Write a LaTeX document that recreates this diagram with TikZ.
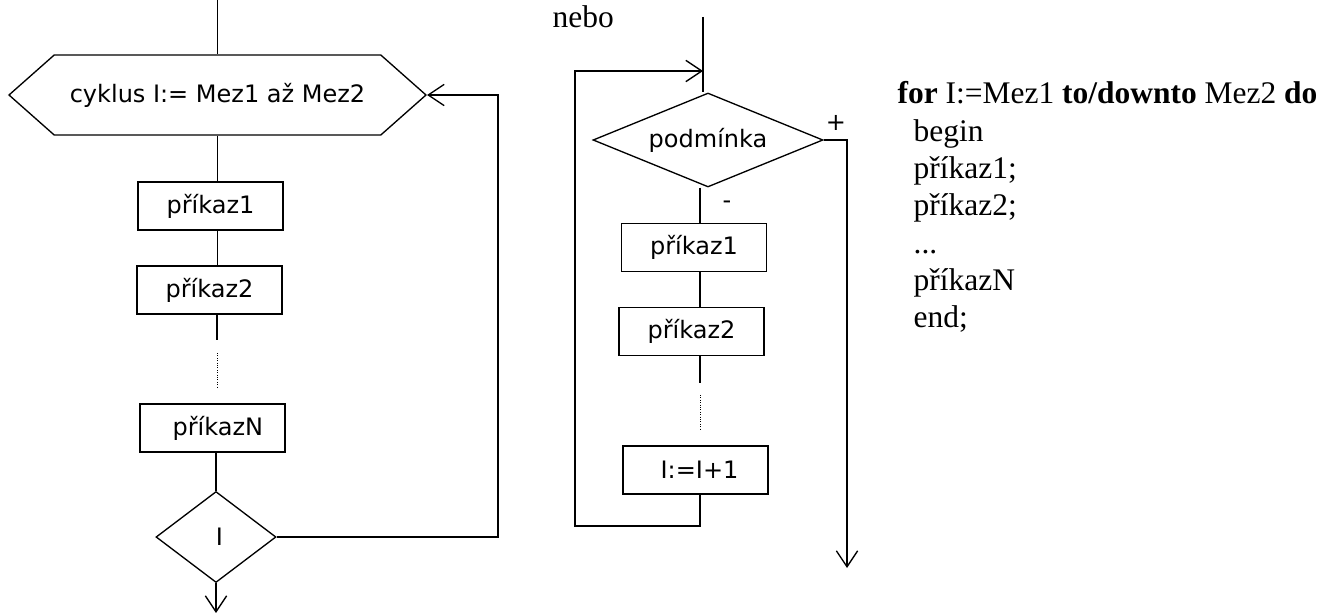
\documentclass[tikz,border=0pt]{standalone}
\usepackage{fontspec}
\setmainfont{Liberation Serif}
\newfontfamily\sansf{DejaVu Sans}
\usetikzlibrary{shapes.geometric,shapes.symbols,arrows.meta}
\begin{document}
\begin{tikzpicture}[x=0.75pt,y=-0.75pt,line width=1pt,
  sanstext/.style={font=\sansf\fontsize{18}{21}\selectfont},
  codetext/.style={font=\fontsize{23.6}{28}\selectfont, anchor=base west, inner sep=0pt},
  box/.style={draw, rectangle, minimum width=108.75pt, minimum height=36pt, inner sep=0pt, sanstext},
  dia/.style={draw, diamond, inner sep=0pt, sanstext},
  hexa/.style={draw, signal, signal to=west and east, signal pointer angle=83,
    minimum width=312.75pt, minimum height=60pt, inner sep=0pt, sanstext},
  arr/.style={-{Straight Barb[length=12pt,width=16pt,line width=1pt]}},
  dots/.style={line width=0.7pt, dash pattern=on 0.8pt off 1pt}]
\useasboundingbox (0,0) rectangle (1334,613);

% ---------- left flowchart ----------
\coordinate (topL) at (217.5,0);
\node[hexa] (hex) at (217.5,95) {cyklus I:= Mez1 až Mez2};
\node[box] (p1L) at (210.5,206) {příkaz1};
\node[box] (p2L) at (209.5,290) {příkaz2};
\node[box] (pNL) at (212.5,428) {\hspace*{8pt}příkazN};
\node[dia, minimum width=90pt, minimum height=68.25pt] (dI) at (216,537) {\hspace*{5pt}I};
\coordinate (s1) at (217,340);
\coordinate (d1) at (217,353);
\coordinate (d2) at (217,387);
\coordinate (rL) at (498,95);
\coordinate (bL) at (216,613);

\draw (topL) -- (hex.north);
\draw (hex.south) -- (hex.south |- p1L.north);
\draw (p1L.south -| hex.south) -- (p2L.north -| hex.south);
\draw (p2L.south -| s1) -- (s1);
\draw[dots] (d1) -- (d2);
\draw (pNL.south -| dI.north) -- (dI.north);
\draw[arr] (dI.south) -- (bL);
\draw[arr] (dI.east) -| (rL) -- (hex.east);

% ---------- middle flowchart ----------
\node[codetext] (nebo) at (552,28) {nebo};
\coordinate (topM) at (703,17);
\node[dia, shape aspect=2.45, minimum width=172.5pt, minimum height=70.5pt] (dP) at (708,140) {podmínka};
\node[box] (p1M) at (694,247.5) {příkaz1};
\node[box] (p2M) at (691.5,331.5) {příkaz2};
\node[box] (iB) at (695.5,470) {\hspace*{6pt}I:=I+1};
\coordinate (fbL) at (575,71);
\coordinate (fbR) at (703,71);
\coordinate (s2) at (700,383);
\coordinate (d3) at (700,395);
\coordinate (d4) at (700,430);
\coordinate (bM) at (700,526);
\coordinate (eM) at (847,568);
\node[sanstext, inner sep=0pt] (plus) at (836,123) {+};
\node[sanstext, inner sep=0pt] (minus) at (727,205) {-};

\draw (topM) -- (topM |- dP.north);
\draw (dP.south -| s2) -- (p1M.north -| s2);
\draw (p1M.south -| s2) -- (p2M.north -| s2);
\draw (p2M.south -| s2) -- (s2);
\draw[dots] (d3) -- (d4);
\draw[arr] (iB.south -| bM) -- (bM) -| (fbL) -- (fbR);
\draw[arr] (dP.east) -| (eM);

% ---------- Pascal code ----------
\node[codetext] (c0) at (897,104) {\textbf{for} I:=Mez1 \textbf{to/downto} Mez2 \textbf{do}};
\node[codetext] (c1) at (913,142) {begin};
\node[codetext] (c2) at (913,178) {příkaz1;};
\node[codetext] (c3) at (913,215) {příkaz2;};
\node[codetext] (c4) at (913,253) {...};
\node[codetext] (c5) at (913,290) {příkazN};
\node[codetext] (c6) at (913,327) {end;};
\end{tikzpicture}
\end{document}
